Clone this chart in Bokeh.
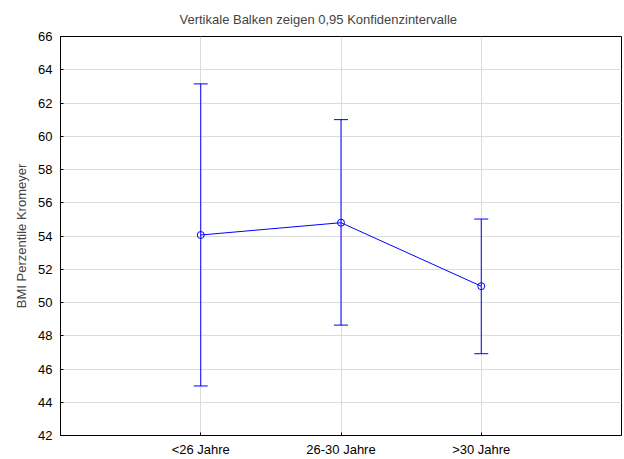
from bokeh.plotting import figure
from bokeh.models import FixedTicker, ColumnDataSource, Whisker, TeeHead, Range1d
from bokeh.embed import file_html
from bokeh.resources import INLINE

categories = ["<26 Jahre", "26-30 Jahre", ">30 Jahre"]
means = [54.06, 54.80, 50.98]
lower = [44.98, 48.64, 46.92]
upper = [63.15, 61.00, 55.02]
y_ticks = [42, 44, 46, 48, 50, 52, 54, 56, 58, 60, 62, 64, 66]

FONT = "Liberation Sans"
BLUE = "#0000ff"

xs = list(range(1, len(categories) + 1))
src = ColumnDataSource(dict(x=xs, mean=means, lo=lower, hi=upper))

p = figure(width=622, height=459, output_backend="svg", toolbar_location=None,
           x_range=Range1d(0, len(categories) + 1), y_range=Range1d(42, 66),
           min_border_left=60, min_border_right=1, min_border_top=4, min_border_bottom=0)

p.title.text = "Vertikale Balken zeigen 0,95 Konfidenzintervalle"
p.title.text_font = FONT
p.title.text_font_size = "13px"
p.title.text_font_style = "normal"
p.title.align = "left"
p.title.offset = 119
p.title.standoff = 19

p.outline_line_color = "black"
p.outline_line_width = 1

for ax in (p.xaxis[0], p.yaxis[0]):
    ax.major_label_text_font = FONT
    ax.major_label_text_font_size = "13px"
    ax.major_label_text_color = "black"
    ax.axis_line_color = "black"
    ax.major_tick_in = 3
    ax.major_tick_out = 0
    ax.minor_tick_line_color = None
    ax.major_tick_line_color = "black"

p.xaxis.ticker = FixedTicker(ticks=xs)
p.xaxis.major_label_overrides = {x: c for x, c in zip(xs, categories)}
p.xaxis.major_label_standoff = 6
p.yaxis.ticker = FixedTicker(ticks=y_ticks)
p.yaxis.major_label_standoff = 8
p.yaxis.axis_label = "BMI Perzentile Kromeyer"
p.yaxis.axis_label_text_font = FONT
p.yaxis.axis_label_text_font_size = "13px"
p.yaxis.axis_label_text_font_style = "normal"
p.yaxis.axis_label_standoff = 6

p.xgrid.grid_line_color = "#dcdcdc"
p.ygrid.grid_line_color = "#dcdcdc"

w = Whisker(source=src, base="x", lower="lo", upper="hi", dimension="height",
            line_color=BLUE, line_width=1,
            upper_head=TeeHead(size=14, line_color=BLUE, line_width=1),
            lower_head=TeeHead(size=14, line_color=BLUE, line_width=1))
p.add_layout(w)

p.line("x", "mean", source=src, line_color=BLUE, line_width=1)
p.scatter("x", "mean", source=src, marker="circle", size=7,
          fill_color=None, line_color=BLUE, line_width=1)

open("out.html", "w").write(file_html(p, INLINE))
